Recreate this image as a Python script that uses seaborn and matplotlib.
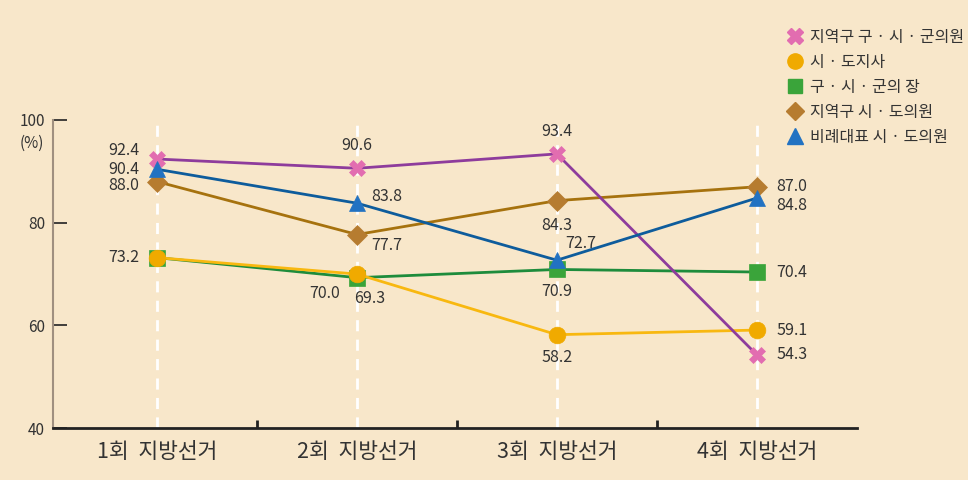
import pandas as pd
import seaborn as sns
import matplotlib.pyplot as plt
from matplotlib.lines import Line2D

# chart data
rounds = ["1회  지방선거", "2회  지방선거", "3회  지방선거", "4회  지방선거"]
series_names = ["지역구 구 · 시 · 군의원", "시 · 도지사", "구 · 시 · 군의 장",
                "지역구 시 · 도의원", "비례대표 시 · 도의원"]
local_council = [92.4, 90.6, 93.4, 54.3]
governor = [73.2, 70.0, 58.2, 59.1]
district_head = [73.2, 69.3, 70.9, 70.4]
provincial_council = [88.0, 77.7, 84.3, 87.0]
proportional = [90.4, 83.8, 72.7, 84.8]
all_values = [local_council, governor, district_head, provincial_council, proportional]

# styling per series: line colour, marker, face colour, marker size, draw order
line_colors = ["#8E3C9C", "#F8B810", "#1E8C3C", "#A6720E", "#0E5C9C"]
markers = ["X", "o", "s", "D", "^"]
face_colors = ["#E26DB0", "#F0AA00", "#3AA43A", "#B67C30", "#2272C2"]
marker_sizes = [12, 12, 11, 10, 12]
draw_order = [7, 5, 4, 6, 8]

# label placement (offset in points, alignment); None = no label (shared value)
label_pos = [
    [(-13, 6, "right", "center"), (0, 10, "center", "bottom"), (0, 10, "center", "bottom"), (14, 0, "left", "center")],
    [(-13, 0, "right", "center"), (-12, -8, "right", "top"), (0, -10, "center", "top"), (14, 0, "left", "center")],
    [None, (-2, -9, "left", "top"), (0, -10, "center", "top"), (14, 0, "left", "center")],
    [(-13, -3, "right", "center"), (10, -2, "left", "top"), (0, -12, "center", "top"), (14, 0, "left", "center")],
    [(-13, 0, "right", "center"), (10, 5, "left", "center"), (6, 6, "left", "bottom"), (14, -5, "left", "center")],
]

sns.set_style("ticks")
plt.rcParams["font.family"] = ["Noto Sans CJK KR", "DejaVu Sans"]
bg = "#F8E7CA"
txt = "#333333"

fig = plt.figure(figsize=(9.68, 4.8), dpi=100, facecolor=bg)
ax = fig.add_axes([0.055, 0.108, 0.83, 0.642], facecolor=bg)

# white dashed guide lines
for i in range(len(rounds)):
    ax.plot([i, i], [40, 100], color="white", lw=2, ls=(0, (4, 3)), zorder=1)

pos = list(range(len(rounds)))
for k, vals in enumerate(all_values):
    df = pd.DataFrame({"x": pos, "y": vals})
    sns.lineplot(data=df, x="x", y="y", ax=ax, color=line_colors[k], lw=2,
                 marker=markers[k], markersize=marker_sizes[k],
                 markerfacecolor=face_colors[k], markeredgecolor=face_colors[k],
                 markeredgewidth=0.5, zorder=draw_order[k])
    for i, v in enumerate(vals):
        if label_pos[k][i] is None:
            continue
        dx, dy, ha, va = label_pos[k][i]
        ax.annotate(f"{v:.1f}", (i, v), xytext=(dx, dy), textcoords="offset points",
                    ha=ha, va=va, fontsize=11.5, color=txt, zorder=10)

ax.set_xlim(-0.52, 3.5)
ax.set_ylim(40, 100)
ax.set_xticks(pos)
ax.set_xticklabels(rounds, fontsize=15.5, color=txt)
ax.set_xticks([0.5, 1.5, 2.5], minor=True)
ax.tick_params(axis="x", which="major", length=0, pad=9)
ax.tick_params(axis="x", which="minor", direction="in", length=6, width=2, color="#222222")
ax.set_yticks([40, 60, 80, 100])
ax.tick_params(axis="y", direction="in", length=10, width=1.2, color="#222222",
               labelsize=11, labelcolor=txt, pad=6)
ax.set_xlabel("")
ax.set_ylabel("")
ax.text(-0.012, 95.5, "(%)", transform=ax.get_yaxis_transform(), ha="right", va="center",
        fontsize=11, color=txt)

for s in ["top", "right"]:
    ax.spines[s].set_visible(False)
ax.spines["left"].set_color("#A09080")
ax.spines["left"].set_linewidth(1.5)
ax.spines["bottom"].set_color("#222222")
ax.spines["bottom"].set_linewidth(2)

handles = [Line2D([], [], ls="none", marker=markers[k], markersize=marker_sizes[k] - 1,
                  markerfacecolor=face_colors[k], markeredgecolor=face_colors[k])
           for k in range(len(series_names))]
fig.legend(handles, series_names, loc="upper left", bbox_to_anchor=(0.797, 0.97),
           frameon=False, fontsize=11.5, handletextpad=0.3, labelspacing=0.5,
           handlelength=1.2, labelcolor=txt)

fig.savefig("out.png", dpi=100, facecolor=bg)
